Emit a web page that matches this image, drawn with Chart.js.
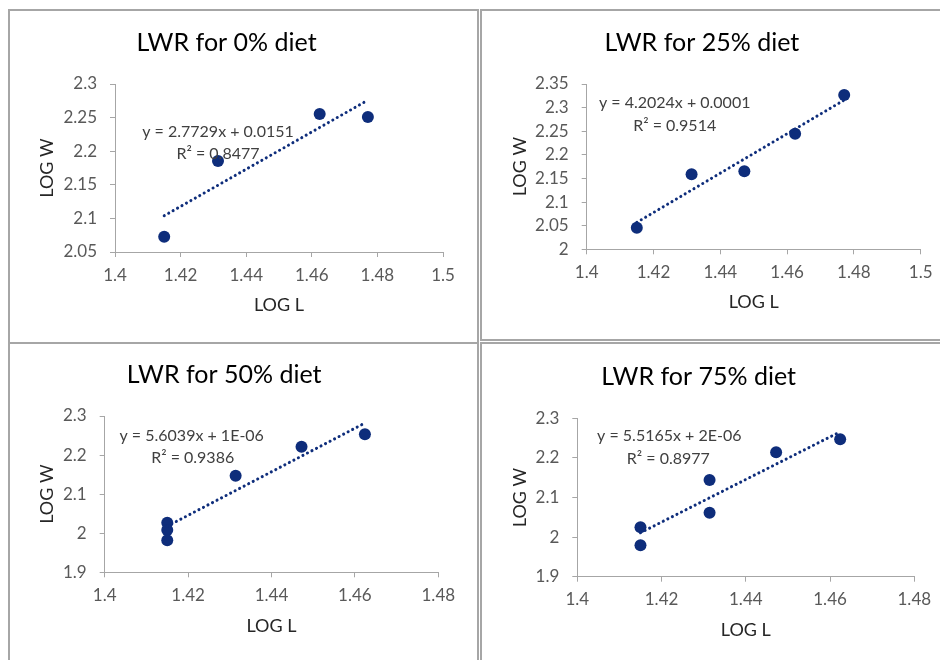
<!DOCTYPE html>
<html>
<head>
<meta charset="utf-8">
<title>LWR</title>
<script src="https://cdn.jsdelivr.net/npm/chart.js@4.4.1/dist/chart.umd.min.js"></script>
<style>
html, body { margin: 0; background: #fff; overflow: hidden; width: 940px; height: 660px; }
.ln { position: absolute; background: #a6a6a6; }
canvas { position: absolute; }
</style>
</head>
<body>
<div class="ln" style="left:8px;top:9px;width:2px;height:651px"></div>
<div class="ln" style="left:8px;top:9px;width:471px;height:2px"></div>
<div class="ln" style="left:477px;top:9px;width:2px;height:651px"></div>
<div class="ln" style="left:8px;top:342px;width:471px;height:2px"></div>
<div class="ln" style="left:480px;top:9px;width:2px;height:332px"></div>
<div class="ln" style="left:480px;top:9px;width:460px;height:2px"></div>
<div class="ln" style="left:480px;top:339px;width:460px;height:2px"></div>
<div class="ln" style="left:480px;top:342px;width:460px;height:2px"></div>
<div class="ln" style="left:480px;top:342px;width:2px;height:318px"></div>

<canvas id="c0" width="466" height="330" style="left:10px;top:11px"></canvas>
<canvas id="c25" width="467" height="327" style="left:483px;top:11px"></canvas>
<canvas id="c50" width="466" height="315" style="left:10px;top:345px"></canvas>
<canvas id="c75" width="467" height="315" style="left:483px;top:345px"></canvas>

<script>
// LOG L / LOG W values for each diet
var logL0 = [1.415, 1.4314, 1.4624, 1.4771];
var logW0 = [2.0728, 2.1854, 2.2554, 2.2509];
var logL25 = [1.415, 1.4314, 1.4472, 1.4624, 1.4771];
var logW25 = [2.0457, 2.1588, 2.1652, 2.2448, 2.3267];
var logL50 = [1.415, 1.415, 1.415, 1.4314, 1.4472, 1.4624];
var logW50 = [2.0269, 2.0083, 1.9819, 2.1472, 2.2214, 2.2532];
var logL75 = [1.415, 1.415, 1.4314, 1.4314, 1.4472, 1.4624];
var logW75 = [2.0247, 1.9793, 2.1442, 2.0616, 2.2141, 2.2470];

// trendline end points
var trendL0 = [1.415, 1.4771];
var trendW0 = [2.104, 2.276];
var trendL25 = [1.415, 1.4771];
var trendW25 = [2.057, 2.316];
var trendL50 = [1.415, 1.4624];
var trendW50 = [2.018, 2.282];
var trendL75 = [1.415, 1.4624];
var trendW75 = [2.011, 2.266];

// tick labels
var xTicksWide = [1.4, 1.42, 1.44, 1.46, 1.48, 1.5];
var xTicksNarrow = [1.4, 1.42, 1.44, 1.46, 1.48];
var yTicks0 = [2.05, 2.1, 2.15, 2.2, 2.25, 2.3];
var yTicks25 = [2, 2.05, 2.1, 2.15, 2.2, 2.25, 2.3, 2.35];
var yTicks50 = [1.9, 2, 2.1, 2.2, 2.3];

var titles = ['LWR for 0% diet', 'LWR for 25% diet', 'LWR for 50% diet', 'LWR for 75% diet'];
var eq0 = ['y = 2.7729x + 0.0151', 'R\u00b2 = 0.8477'];
var eq25 = ['y = 4.2024x + 0.0001', 'R\u00b2 = 0.9514'];
var eq50 = ['y = 5.6039x + 1E-06', 'R\u00b2 = 0.9386'];
var eq75 = ['y = 5.5165x + 2E-06', 'R\u00b2 = 0.8977'];

var navy = '#0e2d7b';
var axisGray = '#a6a6a6';
var font = 'Lato';

// trendline equation text, placed relative to the plot area
var eqLabel = {
	id: 'eqLabel',
	afterDatasetsDraw: function(chart, args, opts) {
		var ctx = chart.ctx, area = chart.chartArea;
		ctx.save();
		ctx.font = '16px ' + font;
		ctx.fillStyle = '#404040';
		ctx.textAlign = 'center';
		ctx.textBaseline = 'middle';
		for (var i = 0; i < opts.lines.length; i++) {
			ctx.fillText(opts.lines[i], area.left + opts.pos[i][0], area.top + opts.pos[i][1]);
		}
		ctx.restore();
	}
};

function fmt(v) {
	return String(+Number(v).toFixed(4));
}

function points(xs, ys) {
	var out = [];
	for (var i in xs) {
		out.push({x: xs[i], y: ys[i]});
	}
	return out;
}

function makeChart(id, title, xs, ys, tx, ty, xTicks, yTicks, eq, lay) {
	var ctx = document.getElementById(id);
	return new Chart(ctx, {
		type: 'scatter',
		data: {
			datasets: [
				{
					label: 'trend',
					data: points(tx, ty),
					showLine: true,
					fill: false,
					pointRadius: 0,
					borderColor: navy,
					borderWidth: 3,
					borderDash: [0.1, 5],
					borderCapStyle: 'round'
				},
				{
					label: 'LOG W',
					data: points(xs, ys),
					pointRadius: 6,
					pointBorderWidth: 0,
					backgroundColor: navy,
					borderColor: navy
				}
			]
		},
		options: {
			responsive: false,
			animation: false,
			layout: {padding: {left: 0, top: 0, right: lay.pr, bottom: 0}},
			plugins: {
				legend: {display: false},
				tooltip: {enabled: false},
				title: {
					display: true,
					text: title,
					color: '#000',
					font: {family: font, size: 25, weight: 'normal'},
					padding: {top: lay.tp[0], bottom: lay.tp[1]}
				},
				eqLabel: {lines: eq, pos: lay.eq}
			},
			scales: {
				x: {
					type: 'linear',
					min: xTicks[0],
					max: xTicks[xTicks.length - 1],
					afterBuildTicks: function(s) { s.ticks = xTicks.map(function(v) { return {value: v}; }); },
					afterFit: function(s) { s.height = lay.xh; },
					grid: {display: true, drawOnChartArea: false, drawTicks: true, tickLength: 5, color: axisGray},
					border: {display: true, color: axisGray, width: 1},
					ticks: {font: {family: font, size: 17}, color: '#595959', padding: 8, maxRotation: 0, autoSkip: false, callback: fmt},
					title: {display: true, text: 'LOG L', color: '#262626', font: {family: font, size: 18}, padding: {top: 0, bottom: lay.xt}}
				},
				y: {
					type: 'linear',
					min: yTicks[0],
					max: yTicks[yTicks.length - 1],
					afterBuildTicks: function(s) { s.ticks = yTicks.map(function(v) { return {value: v}; }); },
					afterFit: function(s) { s.width = lay.yw; },
					grid: {display: true, drawOnChartArea: false, drawTicks: true, tickLength: 5, color: axisGray},
					border: {display: true, color: axisGray, width: 1},
					ticks: {font: {family: font, size: 17}, color: '#595959', padding: 13, autoSkip: false, callback: fmt},
					title: {display: true, text: 'LOG W', color: '#262626', font: {family: font, size: 18}, padding: {top: lay.yt, bottom: 0}}
				}
			}
		},
		plugins: [eqLabel]
	});
}

makeChart('c0', titles[0], logL0, logW0, trendL0, trendW0, xTicksWide, yTicks0, eq0,
	{pr: 33, xh: 89, yw: 105, tp: [17, 26], xt: 25.2, yt: 26.2, eq: [[103, 48], [103, 70]]});
makeChart('c25', titles[1], logL25, logW25, trendL25, trendW25, xTicksWide, yTicks25, eq25,
	{pr: 29.3, xh: 88.7, yw: 103.7, tp: [17.3, 25.7], xt: 25.5, yt: 26.2, eq: [[88, 19], [88, 42]]});
makeChart('c50', titles[2], logL50, logW50, trendL50, trendW50, xTicksNarrow, yTicks50, eq50,
	{pr: 37.7, xh: 87.7, yw: 94.7, tp: [15, 26], xt: 23.5, yt: 25.9, eq: [[87, 20], [88, 42]]});
makeChart('c75', titles[3], logL75, logW75, trendL75, trendW75, xTicksNarrow, yTicks50, eq75,
	{pr: 35.7, xh: 83.3, yw: 94.3, tp: [16.7, 26.6], xt: 19.2, yt: 26.2, eq: [[92, 18], [91, 41]]});
</script>
</body>
</html>
